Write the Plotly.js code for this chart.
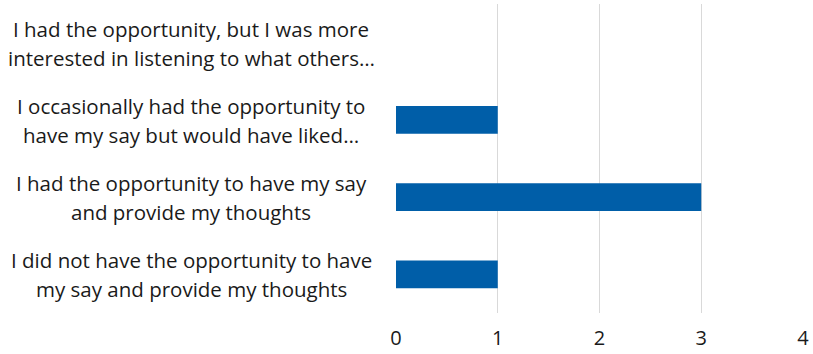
<!DOCTYPE html>
<html><head><meta charset="utf-8">
<script src="https://cdn.plot.ly/plotly-3.0.1.min.js"></script>
<style>html,body{margin:0;padding:0;background:#fff;}</style>
</head><body>
<div id="chart" style="width:813px;height:354px;"></div>
<script>
const categories = [
  "I had the opportunity, but I was more<br>interested in listening to what others…",
  "I occasionally had the opportunity to<br>have my say but would have liked…",
  "I had the opportunity to have my say<br>and provide my thoughts",
  "I did not have the opportunity to have<br>my say and provide my thoughts"
];
const values = [0, 1, 3, 1];
const xTicks = [0, 1, 2, 3, 4];

const FONT = "'Open Sans', sans-serif";
const annotations = [];
categories.forEach((c) => {
  c.split('<br>').forEach((line, i) => {
    annotations.push({
      text: line, xref: 'paper', yref: 'y', x: -0.503, y: c,
      xanchor: 'center', yanchor: 'middle', align: 'center', showarrow: false,
      yshift: i === 0 ? 14 : -15,
      font: {family: FONT, size: 20.5, color: '#1a1a1a'}
    });
  });
});

Plotly.newPlot('chart', [{
  type: 'bar', orientation: 'h', x: values, y: categories,
  marker: {color: '#005EA8'}, hoverinfo: 'none'
}], {
  width: 813, height: 354,
  margin: {l: 396, r: 10, t: 4, b: 41},
  paper_bgcolor: '#fff', plot_bgcolor: '#fff',
  bargap: 0.64, showlegend: false,
  xaxis: {range: [0, 4], tickvals: xTicks, showgrid: true, gridcolor: '#D9D9D9', gridwidth: 1.3,
          zeroline: false, showline: false, ticks: '', ticklen: 0, ticklabelstandoff: 11,
          tickfont: {family: FONT, size: 20, color: '#1a1a1a'}},
  yaxis: {type: 'category', autorange: 'reversed', showticklabels: false, showgrid: false,
          zeroline: false, showline: false, ticks: ''},
  annotations: annotations
}, {staticPlot: true});
</script>
</body></html>
